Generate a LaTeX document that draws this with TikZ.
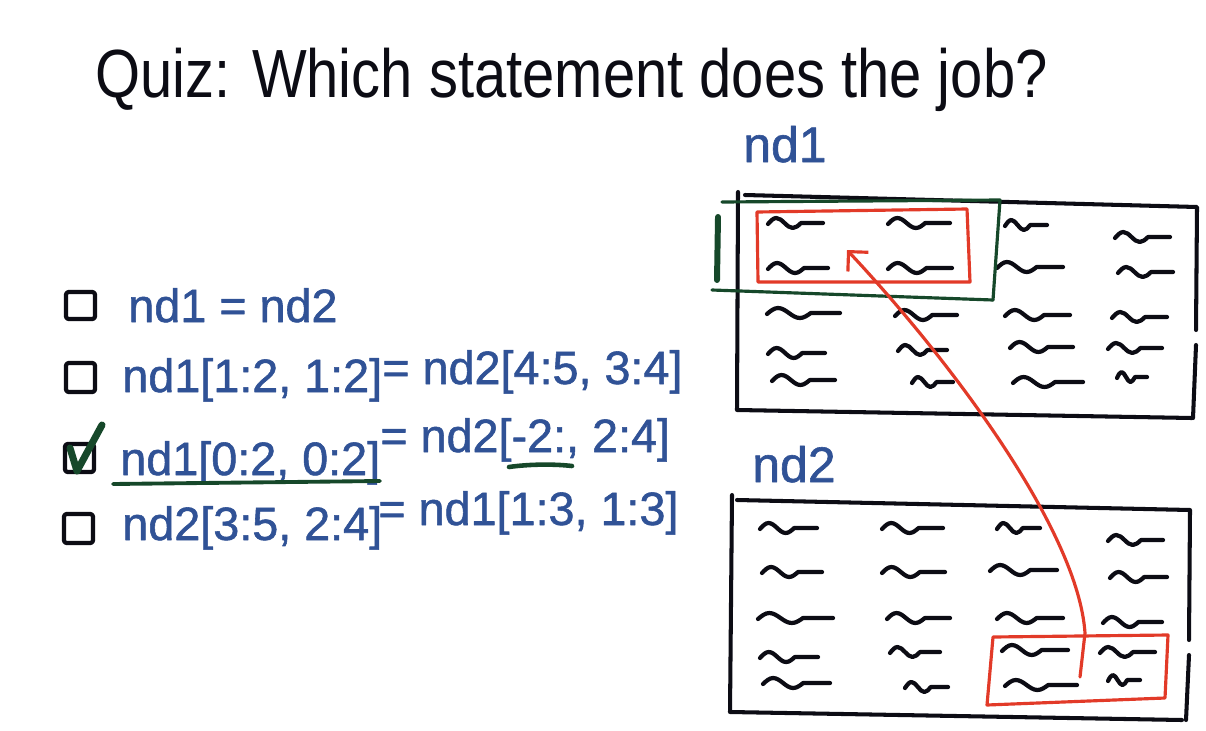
\documentclass[tikz,border=0pt]{standalone}
\usepackage{fontspec}
\setmainfont{Liberation Sans}
\newfontfamily\titlefont[FakeStretch=0.85]{Liberation Sans}
\newfontfamily\inkfont[FakeBold=1.2]{Liberation Sans}
\usetikzlibrary{arrows.meta}
\definecolor{inkblue}{RGB}{48,82,150}
\definecolor{inkgreen}{RGB}{22,72,42}
\definecolor{inkred}{RGB}{226,58,40}
\definecolor{ink}{RGB}{12,12,20}
% hand-drawn squiggle: x1, x2, y
\newcommand\wavy[3]{%
  \pgfmathsetmacro\sqA{#1+0.15*(#2-#1)}%
  \pgfmathsetmacro\sqB{#1+0.30*(#2-#1)}%
  \pgfmathsetmacro\sqC{#1+0.45*(#2-#1)}%
  \pgfmathsetmacro\sqD{#1+0.60*(#2-#1)}%
  \draw[squig] (#1,#3+1) sin (\sqA,#3-5) cos (\sqB,#3) sin (\sqC,#3+5) cos (\sqD,#3) -- (#2,#3);}
\begin{document}
\begin{tikzpicture}[x=0.02cm,y=-0.02cm,line cap=round,line join=round,
  answer/.style={inner sep=0pt,anchor=base west,text=inkblue,font=\inkfont\fontsize{26.6}{30}\selectfont},
  arrlabel/.style={inner sep=0pt,anchor=base west,text=inkblue,font=\inkfont\fontsize{28.4}{32}\selectfont},
  heading/.style={inner sep=0pt,anchor=base west,text=ink,font=\titlefont\fontsize{38.8}{42}\selectfont},
  tickbox/.style={draw=ink,line width=2.4pt,rounded corners=1.5pt},
  frame/.style={draw=ink,line width=2.3pt},
  squig/.style={draw=ink,line width=2.4pt},
  greenline/.style={draw=inkgreen,line width=1.8pt},
  redline/.style={draw=inkred,line width=1.8pt}]
\fill[white] (0,0) rectangle (1206,730);
\useasboundingbox (0,0) rectangle (1206,730);

% title
\node[heading] (title) at (95,97) {Quiz: Which statement does the job?};

% answers
\draw[tickbox] (66,292) rectangle (95,319);
\draw[tickbox] (66,363) rectangle (95,392);
\draw[tickbox] (65,444) rectangle (94,472);
\draw[tickbox] (64,514) rectangle (93,543);

\node[answer] (q1) at (128,322) {nd1 = nd2};
\node[answer] (q2a) at (122,392) {nd1[1:2, 1:2]};
\node[answer] (q2b) at (382,384) {= nd2[4:5, 3:4]};
\node[answer] (q3a) at (120,475) {nd1[0:2, 0:2]};
\node[answer] (q3b) at (380,452) {= nd2[-2:, 2:4]};
\node[answer] (q4a) at (122,540) {nd2[3:5, 2:4]};
\node[answer] (q4b) at (378,525) {= nd1[1:3, 1:3]};

% check mark and underlines
\draw[draw=inkgreen,line width=4pt] (70,448) -- (77,471) -- (102,425);
\draw[greenline,line width=2.2pt] (113,484) -- (380,481);
\draw[greenline,line width=2.6pt] (509,467) .. controls (530,464) and (555,464) .. (572,466);

% labels
\node[arrlabel] (lab1) at (743,162) {nd1};
\node[arrlabel] (lab2) at (752,482) {nd2};

% nd1 array
\draw[frame] (738,192) -- (737,410) -- (1192,418);
\draw[frame] (745,195) -- (1197,207) -- (1196,330);
\draw[frame] (1196,345) -- (1193,418);
\wavy{768}{823}{223} \wavy{888}{950}{223} \wavy{1005}{1047}{225} \wavy{1115}{1170}{237}
\wavy{768}{828}{268} \wavy{888}{952}{268} \wavy{997}{1063}{267} \wavy{1118}{1173}{272}
\wavy{767}{840}{313} \wavy{895}{957}{315} \wavy{1005}{1070}{315} \wavy{1112}{1167}{317}
\wavy{768}{825}{353} \wavy{898}{947}{350} \wavy{1010}{1073}{347} \wavy{1108}{1162}{348}
\wavy{772}{835}{380} \wavy{912}{953}{382} \wavy{1013}{1083}{382} \wavy{1117}{1147}{377}

% green selection in nd1
\draw[greenline] (722,202) -- (1000,200) -- (993,300);
\draw[greenline] (712,290) -- (993,300);
\draw[draw=inkgreen,line width=3.4pt] (718,217) -- (717,280);

% red selection in nd1
\draw[redline] (757,212) -- (967,209) -- (970,282) -- (758,282) -- cycle;

% nd2 array
\draw[frame] (732,495) -- (730,712) -- (1182,720);
\draw[frame] (737,500) -- (1190,510) -- (1189,640);
\draw[frame] (1189,655) -- (1186,720);
\wavy{760}{817}{528} \wavy{882}{943}{528} \wavy{997}{1040}{528} \wavy{1108}{1163}{540}
\wavy{762}{822}{572} \wavy{882}{945}{572} \wavy{990}{1057}{570} \wavy{1110}{1167}{577}
\wavy{758}{833}{618} \wavy{887}{950}{618} \wavy{997}{1063}{618} \wavy{1103}{1162}{622}
\wavy{760}{818}{657} \wavy{890}{940}{652} \wavy{1002}{1068}{650} \wavy{1100}{1155}{652}
\wavy{763}{830}{683} \wavy{905}{948}{687} \wavy{1005}{1077}{685} \wavy{1108}{1140}{680}

% red selection in nd2
\draw[redline] (993,637) -- (1168,635) -- (1165,698) -- (987,705) -- cycle;

% red arrow from nd2 selection to nd1 selection
\coordinate (arrS) at (1080,677);
\coordinate (arrE) at (847,250);
\draw[redline,-{Straight Barb[length=8pt,width=16pt,line width=1.8pt]}]
  (arrS) -- (1085,633) .. controls (1078,530) and (950,360) .. (arrE);
\end{tikzpicture}
\end{document}
